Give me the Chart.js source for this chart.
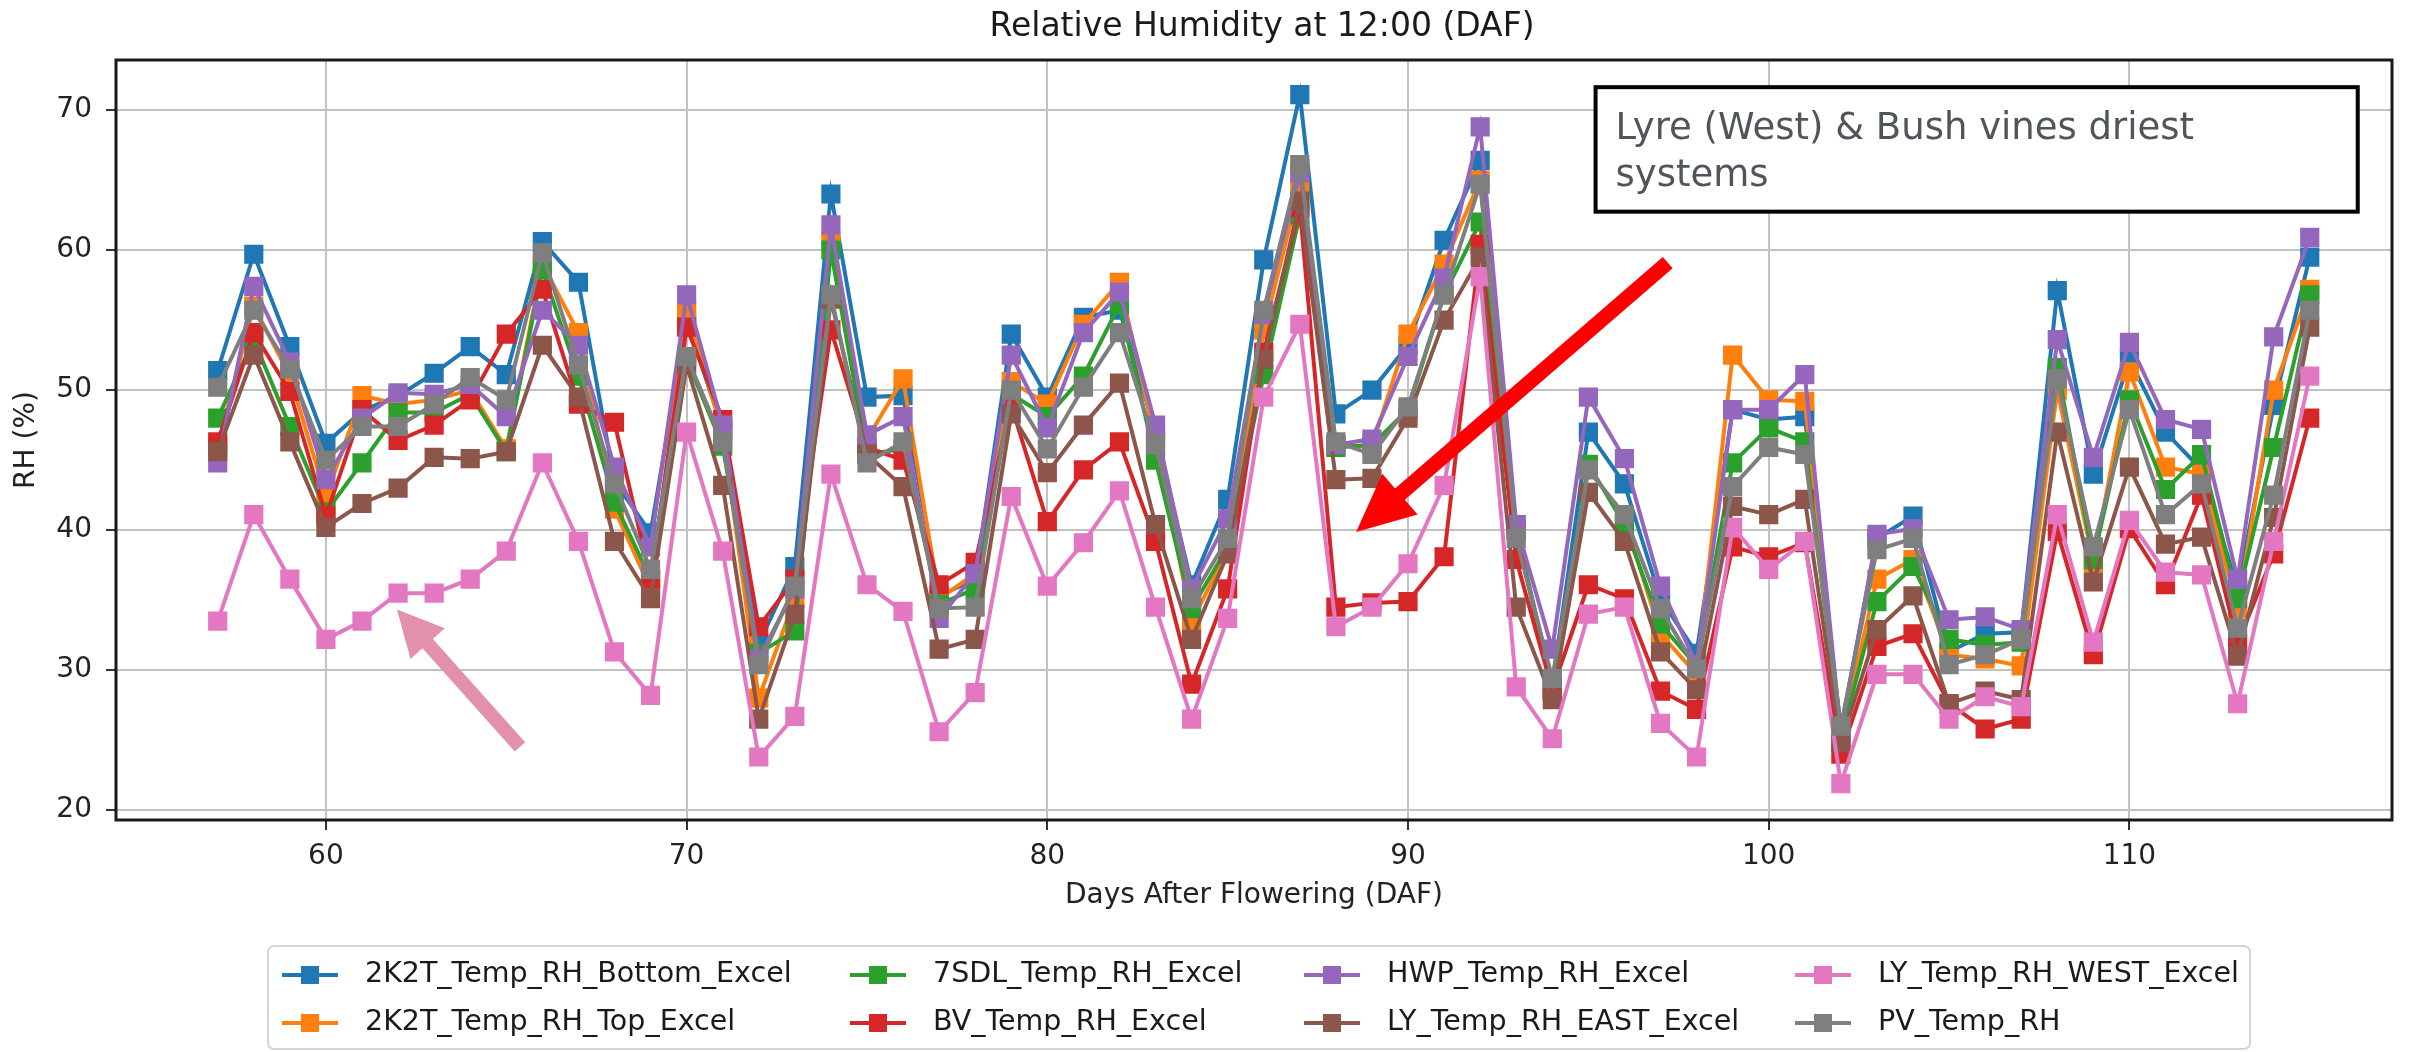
<!DOCTYPE html>
<html>
<head>
<meta charset="utf-8">
<title>Relative Humidity at 12:00 (DAF)</title>
<script src="https://cdn.jsdelivr.net/npm/chart.js@4.4.1/dist/chart.umd.min.js"></script>
<style>
  html, body { margin: 0; padding: 0; background: #fff; }
  canvas { display: block; }
</style>
</head>
<body>
<canvas id="rhChart" width="2422" height="1052"></canvas>
<script>
// Days after flowering (x)
const days = [57, 58, 59, 60, 61, 62, 63, 64, 65, 66, 67, 68, 69, 70, 71, 72, 73, 74, 75, 76,
  77, 78, 79, 80, 81, 82, 83, 84, 85, 86, 87, 88, 89, 90, 91, 92, 93, 94, 95, 96,
  97, 98, 99, 100, 101, 102, 103, 104, 105, 106, 107, 108, 109, 110, 111, 112, 113, 114, 115];

const xTicks = [60, 70, 80, 90, 100, 110];
const yTicks = [20, 30, 40, 50, 60, 70];

const seriesNames = [
  "2K2T_Temp_RH_Bottom_Excel", "2K2T_Temp_RH_Top_Excel", "7SDL_Temp_RH_Excel", "BV_Temp_RH_Excel",
  "HWP_Temp_RH_Excel", "LY_Temp_RH_EAST_Excel", "LY_Temp_RH_WEST_Excel", "PV_Temp_RH"
];
const seriesColors = ["#1f77b4", "#ff7f0e", "#2ca02c", "#d62728", "#9467bd", "#8c564b", "#e377c2", "#7f7f7f"];

// RH (%) at 12:00, one value per day
const rh2K2TBottom = [51.4, 59.7, 53.1, 46.2, 48.5, 49.6, 51.2, 53.1, 51.1, 60.6,
  57.7, 43.5, 39.8, 55.0, 47.2, 31.9, 37.4, 64.0, 49.5, 49.6,
  35.3, 36.5, 54.0, 49.5, 55.2, 55.7, 47.0, 36.1, 42.2, 59.3,
  71.1, 48.3, 50.0, 53.2, 60.7, 66.4, 40.0, 29.0, 47.0, 43.3,
  35.1, 31.2, 48.6, 47.9, 48.1, 25.8, 39.4, 41.0, 31.3, 32.6,
  32.7, 57.1, 44.0, 52.2, 47.0, 44.3, 35.8, 48.9, 59.5];
const rh2K2TTop = [46.0, 56.0, 51.0, 42.4, 49.6, 49.0, 49.3, 50.0, 45.8, 59.0,
  54.1, 41.5, 35.8, 55.6, 47.0, 28.0, 35.1, 60.7, 46.5, 50.8,
  35.1, 36.9, 50.6, 49.0, 54.7, 57.7, 46.5, 33.5, 38.5, 54.3,
  64.5, 46.0, 46.0, 54.0, 59.0, 65.0, 40.0, 28.5, 44.5, 40.8,
  32.6, 29.7, 52.5, 49.3, 49.2, 25.3, 36.5, 37.9, 31.1, 30.8,
  30.3, 50.0, 37.7, 51.3, 44.5, 44.0, 34.4, 50.0, 57.2];
const rh7SDL = [48.0, 53.6, 47.4, 41.3, 44.8, 48.4, 48.4, 49.7, 45.6, 58.6,
  51.0, 42.0, 36.5, 52.2, 46.0, 31.2, 32.8, 60.0, 45.4, 45.8,
  34.7, 35.8, 49.7, 48.1, 51.0, 56.1, 45.0, 34.4, 38.8, 51.1,
  62.5, 45.9, 46.1, 48.6, 56.8, 62.0, 40.0, 28.5, 44.7, 40.4,
  33.3, 30.3, 44.8, 47.3, 46.3, 25.2, 34.9, 37.4, 32.2, 31.8,
  32.0, 51.6, 37.9, 49.3, 42.9, 45.4, 35.1, 45.9, 56.8];
const rhBV = [46.3, 54.1, 49.9, 41.0, 48.6, 46.4, 47.5, 49.3, 54.0, 57.2,
  49.0, 47.7, 36.5, 54.5, 47.9, 33.1, 36.5, 54.3, 45.9, 45.0,
  36.1, 37.7, 48.9, 40.6, 44.3, 46.3, 39.2, 29.0, 35.8, 52.7,
  63.0, 34.5, 34.8, 34.9, 38.1, 60.4, 37.9, 28.6, 36.1, 35.1,
  28.5, 27.2, 38.8, 38.1, 39.1, 24.0, 31.7, 32.6, 27.6, 25.8,
  26.5, 39.9, 31.1, 40.1, 36.1, 42.5, 31.9, 38.3, 48.0];
const rhHWP = [44.8, 57.4, 52.0, 43.6, 48.0, 49.8, 49.7, 50.4, 48.1, 55.7,
  53.2, 44.5, 38.8, 56.8, 47.5, 30.8, 35.8, 61.8, 46.8, 48.1,
  33.7, 36.9, 52.5, 47.3, 54.1, 57.0, 47.5, 35.8, 40.8, 55.4,
  65.5, 46.1, 46.5, 52.4, 58.0, 68.8, 40.4, 31.5, 49.5, 45.1,
  36.0, 30.4, 48.6, 48.6, 51.1, 25.5, 39.7, 40.1, 33.6, 33.8,
  32.9, 53.6, 45.2, 53.4, 47.9, 47.2, 36.5, 53.8, 60.9];
const rhLYEast = [45.6, 52.5, 46.3, 40.2, 41.9, 43.0, 45.2, 45.1, 45.6, 53.2,
  49.5, 39.2, 35.1, 51.8, 43.2, 26.5, 34.0, 56.5, 45.4, 43.1,
  31.5, 32.2, 48.3, 44.1, 47.5, 50.5, 40.4, 32.2, 38.3, 52.2,
  63.5, 43.6, 43.7, 48.0, 55.0, 59.5, 34.5, 27.9, 42.7, 39.2,
  31.3, 28.6, 41.7, 41.1, 42.2, 24.8, 32.9, 35.3, 27.6, 28.5,
  27.9, 47.0, 36.3, 44.5, 39.0, 39.5, 31.0, 40.9, 54.5];
const rhLYWest = [33.5, 41.1, 36.5, 32.2, 33.5, 35.5, 35.5, 36.5, 38.5, 44.8,
  39.2, 31.3, 28.2, 47.0, 38.5, 23.8, 26.7, 44.0, 36.1, 34.2,
  25.6, 28.4, 42.4, 36.0, 39.1, 42.8, 34.5, 26.5, 33.7, 49.5,
  54.7, 33.1, 34.5, 37.6, 43.2, 58.1, 28.8, 25.1, 34.0, 34.5,
  26.2, 23.8, 40.2, 37.2, 39.2, 21.9, 29.7, 29.7, 26.5, 28.1,
  27.4, 41.1, 32.0, 40.7, 37.0, 36.8, 27.6, 39.2, 51.0];
const rhPV = [50.2, 55.7, 51.5, 45.0, 47.4, 47.4, 49.0, 50.9, 49.3, 59.8,
  51.8, 43.3, 37.2, 52.4, 46.3, 30.4, 36.0, 56.8, 44.8, 46.3,
  34.4, 34.5, 50.0, 45.8, 50.2, 54.1, 46.1, 35.1, 39.4, 55.7,
  66.1, 46.3, 45.4, 48.8, 56.8, 64.7, 39.4, 29.4, 44.3, 41.1,
  34.4, 30.1, 43.1, 45.9, 45.4, 26.0, 38.6, 39.4, 30.4, 31.1,
  32.2, 50.8, 38.8, 48.6, 41.1, 43.3, 33.0, 42.5, 55.7];

const seriesValues = [rh2K2TBottom, rh2K2TTop, rh7SDL, rhBV, rhHWP, rhLYEast, rhLYWest, rhPV];

// annotation text and arrows (in data units: day, RH)
const noteLines = ["Lyre (West) & Bush vines driest", "systems"];
const noteBox = { x0: 95.2, x1: 116.33, y0: 71.63, y1: 62.74 };
const redArrow = { from: [97.2, 59.1], to: [88.56, 39.86] };
const pinkArrow = { from: [65.38, 24.52], to: [61.97, 34.34] };

Chart.defaults.font.family = "'DejaVu Sans', sans-serif";

const datasets = seriesNames.map((name, i) => ({
  label: name,
  data: days.map((d, k) => ({ x: d, y: seriesValues[i][k] })),
  borderColor: seriesColors[i],
  backgroundColor: seriesColors[i],
  borderWidth: 4,
  pointStyle: "rect",
  pointRadius: 12.5,
  pointBorderWidth: 1.5,
  pointHoverRadius: 12.5,
  tension: 0,
  // first series at the bottom, last one on top (like matplotlib)
  order: seriesNames.length - i,
}));

function drawArrow(ctx, x1, y1, x2, y2, shaft, headLen, headHalf, color) {
  const ang = Math.atan2(y2 - y1, x2 - x1);
  const len = Math.hypot(x2 - x1, y2 - y1);
  ctx.save();
  ctx.translate(x1, y1);
  ctx.rotate(ang);
  ctx.fillStyle = color;
  ctx.beginPath();
  ctx.moveTo(0, -shaft / 2);
  ctx.lineTo(len - headLen, -shaft / 2);
  ctx.lineTo(len - headLen, -headHalf);
  ctx.lineTo(len, 0);
  ctx.lineTo(len - headLen, headHalf);
  ctx.lineTo(len - headLen, shaft / 2);
  ctx.lineTo(0, shaft / 2);
  ctx.closePath();
  ctx.fill();
  ctx.restore();
}

const decorPlugin = {
  id: "decor",
  afterDatasetsDraw(chart) {
    const { ctx, chartArea: a } = chart;
    ctx.save();
    ctx.strokeStyle = "#1a1a1a";
    ctx.lineWidth = 3;
    ctx.strokeRect(a.left, a.top, a.right - a.left, a.bottom - a.top);
    ctx.restore();
  },
  afterDraw(chart) {
    const { ctx, chartArea: a } = chart;
    const xs = chart.scales.x, ys = chart.scales.y;
    const px = (d) => xs.getPixelForValue(d);
    const py = (v) => ys.getPixelForValue(v);

    // title
    ctx.save();
    ctx.fillStyle = "#1a1a1a";
    ctx.font = "33px 'DejaVu Sans'";
    ctx.textAlign = "center";
    ctx.textBaseline = "middle";
    ctx.fillText("Relative Humidity at 12:00 (DAF)", (a.left + a.right) / 2 + 8, 27);
    ctx.restore();

    // arrows
    drawArrow(ctx, px(redArrow.from[0]), py(redArrow.from[1]), px(redArrow.to[0]), py(redArrow.to[1]), 15, 58, 27, "#ff0000");
    drawArrow(ctx, px(pinkArrow.from[0]), py(pinkArrow.from[1]), px(pinkArrow.to[0]), py(pinkArrow.to[1]), 14, 46, 23, "#e38fae");

    // annotation box
    const bx = px(noteBox.x0), by = py(noteBox.y0);
    const bw = px(noteBox.x1) - bx, bh = py(noteBox.y1) - by;
    ctx.save();
    ctx.fillStyle = "#ffffff";
    ctx.fillRect(bx, by, bw, bh);
    ctx.strokeStyle = "#000000";
    ctx.lineWidth = 4;
    ctx.strokeRect(bx, by, bw, bh);
    ctx.fillStyle = "#4f555b";
    ctx.font = "37px 'DejaVu Sans'";
    ctx.textAlign = "left";
    ctx.textBaseline = "middle";
    noteLines.forEach((t, i) => ctx.fillText(t, bx + 20, by + 42 + i * 47));
    ctx.restore();

    // legend (4 columns, filled column by column)
    const colX = [282, 850, 1304, 1795];
    const rowY = [975, 1023];
    ctx.save();
    ctx.fillStyle = "rgba(255,255,255,0.8)";
    ctx.strokeStyle = "#d4d4d4";
    ctx.lineWidth = 2;
    ctx.beginPath();
    ctx.roundRect(268, 946, 1982, 103, 6);
    ctx.fill();
    ctx.stroke();
    ctx.font = "28.5px 'DejaVu Sans'";
    ctx.textBaseline = "middle";
    ctx.textAlign = "left";
    chart.data.datasets.forEach((ds, i) => {
      const hx = colX[Math.floor(i / 2)];
      const hy = rowY[i % 2];
      ctx.strokeStyle = ds.borderColor;
      ctx.lineWidth = 4;
      ctx.beginPath();
      ctx.moveTo(hx, hy);
      ctx.lineTo(hx + 56, hy);
      ctx.stroke();
      ctx.fillStyle = ds.backgroundColor;
      ctx.fillRect(hx + 28 - 9, hy - 9, 18, 18);
      ctx.fillStyle = "#1a1a1a";
      ctx.fillText(ds.label, hx + 83, hy);
    });
    ctx.restore();
  },
};

const tickFont = { family: "'DejaVu Sans'", size: 28 };
const gridStyle = { color: "#c2c2c2", lineWidth: 2, tickColor: "#333", tickLength: 10, tickWidth: 2 };

new Chart(document.getElementById("rhChart"), {
  type: "line",
  data: { datasets },
  options: {
    responsive: false,
    devicePixelRatio: 1,
    animation: false,
    layout: { padding: { top: 60, right: 30, bottom: 132, left: 0 } },
    plugins: {
      legend: { display: false },
      title: { display: false },
      tooltip: { enabled: false },
    },
    scales: {
      x: {
        type: "linear",
        min: 54.18,
        max: 117.28,
        afterBuildTicks: (s) => { s.ticks = xTicks.map((v) => ({ value: v })); },
        afterFit: (s) => { s.height = 100; },
        ticks: { font: tickFont, color: "#222", padding: 10, maxRotation: 0 },
        grid: gridStyle,
        border: { display: false },
        title: {
          display: true,
          text: "Days After Flowering (DAF)",
          font: { family: "'DejaVu Sans'", size: 28 },
          color: "#222",
          padding: { top: 0, bottom: 7 },
        },
      },
      y: {
        min: 19.3,
        max: 73.57,
        afterBuildTicks: (s) => { s.ticks = yTicks.map((v) => ({ value: v })); },
        afterFit: (s) => { s.width = 116; },
        ticks: { font: tickFont, color: "#222", padding: 14 },
        grid: gridStyle,
        border: { display: false },
        title: {
          display: true,
          text: "RH (%)",
          font: { family: "'DejaVu Sans'", size: 28 },
          color: "#222",
          padding: { top: 10, bottom: 0 },
        },
      },
    },
  },
  plugins: [decorPlugin],
});
</script>
</body>
</html>
